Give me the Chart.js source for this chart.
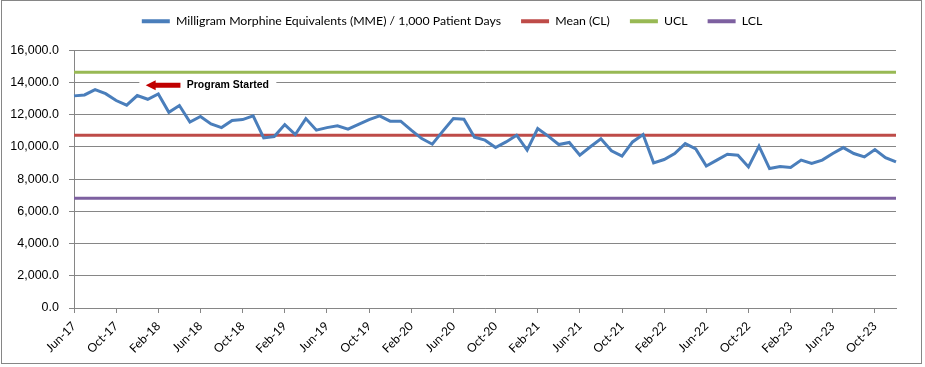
<!DOCTYPE html>
<html>
<head>
<meta charset="utf-8">
<script src="https://cdn.jsdelivr.net/npm/chart.js@4.4.0/dist/chart.umd.min.js"></script>
<style>
  html, body { margin: 0; padding: 0; background: #fff; }
</style>
</head>
<body>
<canvas id="grafico" width="925" height="367"></canvas>
<script>
// meses (eixo x)
const meses = [
  'Jun-17', 'Jul-17', 'Aug-17', 'Sep-17', 'Oct-17', 'Nov-17', 'Dec-17',
  'Jan-18', 'Feb-18', 'Mar-18', 'Apr-18', 'May-18', 'Jun-18', 'Jul-18', 'Aug-18', 'Sep-18', 'Oct-18', 'Nov-18', 'Dec-18',
  'Jan-19', 'Feb-19', 'Mar-19', 'Apr-19', 'May-19', 'Jun-19', 'Jul-19', 'Aug-19', 'Sep-19', 'Oct-19', 'Nov-19', 'Dec-19',
  'Jan-20', 'Feb-20', 'Mar-20', 'Apr-20', 'May-20', 'Jun-20', 'Jul-20', 'Aug-20', 'Sep-20', 'Oct-20', 'Nov-20', 'Dec-20',
  'Jan-21', 'Feb-21', 'Mar-21', 'Apr-21', 'May-21', 'Jun-21', 'Jul-21', 'Aug-21', 'Sep-21', 'Oct-21', 'Nov-21', 'Dec-21',
  'Jan-22', 'Feb-22', 'Mar-22', 'Apr-22', 'May-22', 'Jun-22', 'Jul-22', 'Aug-22', 'Sep-22', 'Oct-22', 'Nov-22', 'Dec-22',
  'Jan-23', 'Feb-23', 'Mar-23', 'Apr-23', 'May-23', 'Jun-23', 'Jul-23', 'Aug-23', 'Sep-23', 'Oct-23', 'Nov-23', 'Dec-23'
]

// MME / 1,000 patient days
const mme = [
  13170, 13230, 13560, 13310, 12880, 12590, 13190,
  12960, 13290, 12150, 12570, 11550, 11890, 11430, 11200, 11640, 11700, 11930, 10560,
  10650, 11390, 10770, 11760, 11040, 11200, 11310, 11100, 11400, 11700, 11930, 11600,
  11600, 11040, 10520, 10170, 10980, 11760, 11720, 10600, 10420, 9960, 10310, 10730,
  9800, 11140, 10670, 10150, 10280, 9490, 10010, 10510, 9760, 9430, 10310, 10770,
  9010, 9220, 9590, 10210, 9880, 8810, 9180, 9550, 9490, 8760, 10050, 8660,
  8780, 8720, 9180, 8970, 9180, 9590, 9960, 9590, 9380, 9840, 9340, 9070
]

// limites de controle
const mediaCL = 10720
const ucl = 14630
const lcl = 6810

const ticksY = [0, 2000, 4000, 6000, 8000, 10000, 12000, 14000, 16000]

// anotacao "Program Started" (em coordenadas de dados)
const anotacaoTexto = 'Program Started'
const anotacaoValor = 13830
const anotacaoPonta = 6.8
const anotacaoCauda = 10.1
const anotacaoTextoX = 10.7
const anotacaoFundo = [6.2, 19.2]

const cinza = '#868686'
const fonteCalibri = 'Lato, "Open Sans", sans-serif'

const fundoBranco = {
  id: 'fundoBranco',
  beforeDraw(chart) {
    const c = chart.ctx
    c.save()
    c.fillStyle = '#fff'
    c.fillRect(0, 0, chart.width, chart.height)
    c.restore()
  },
  afterDraw(chart) {
    const c = chart.ctx
    c.save()
    c.strokeStyle = cinza
    c.lineWidth = 1
    c.strokeRect(1.5, 0.5, chart.width - 5, chart.height - 4)
    c.restore()
  }
}

const anotacao = {
  id: 'anotacao',
  beforeDatasetsDraw(chart) {
    const c = chart.ctx
    const xs = chart.scales.x
    const ys = chart.scales.y
    const y = ys.getPixelForValue(anotacaoValor)
    const x0 = xs.getPixelForValue(anotacaoFundo[0])
    const x1 = xs.getPixelForValue(anotacaoFundo[1])
    c.save()
    c.fillStyle = '#fff'
    c.fillRect(x0, y - 8, x1 - x0, 15)

    const ponta = xs.getPixelForValue(anotacaoPonta)
    const cauda = xs.getPixelForValue(anotacaoCauda)
    c.fillStyle = '#c00000'
    c.beginPath()
    c.moveTo(ponta, y)
    c.lineTo(ponta + 10, y - 5)
    c.lineTo(ponta + 10, y - 2.5)
    c.lineTo(cauda, y - 2.5)
    c.lineTo(cauda, y + 2.5)
    c.lineTo(ponta + 10, y + 2.5)
    c.lineTo(ponta + 10, y + 5)
    c.closePath()
    c.fill()

    c.fillStyle = '#000'
    c.font = 'bold 10.5px "Liberation Sans", Arial, sans-serif'
    c.textBaseline = 'middle'
    c.textAlign = 'left'
    c.fillText(anotacaoTexto, xs.getPixelForValue(anotacaoTextoX), y)
    c.restore()
  }
}

const linha = (label, data, cor) => ({
  label: label,
  data: data,
  borderColor: cor,
  backgroundColor: cor,
  borderWidth: 3,
  pointRadius: 0,
  pointHoverRadius: 0,
  tension: 0,
  fill: false
})

const ctx = document.getElementById('grafico')

new Chart(ctx, {
  type: 'line',
  data: {
    labels: meses,
    datasets: [
      linha('Milligram Morphine Equivalents (MME) / 1,000 Patient Days', mme, '#4a7ebb'),
      linha('Mean (CL)', meses.map(() => mediaCL), '#be4b48'),
      linha('UCL', meses.map(() => ucl), '#98b954'),
      linha('LCL', meses.map(() => lcl), '#7d60a0')
    ]
  },
  options: {
    responsive: false,
    animation: false,
    layout: {
      padding: { top: -5, left: 8, right: 29, bottom: 0 }
    },
    plugins: {
      tooltip: { enabled: false },
      legend: {
        position: 'top',
        labels: {
          boxWidth: 28,
          boxHeight: 4,
          padding: 20,
          color: '#000',
          font: { family: fonteCalibri, size: 12.3 },
          generateLabels: (chart) =>
            Chart.defaults.plugins.legend.labels.generateLabels(chart).map(l => ({ ...l, lineWidth: 0 }))
        }
      },
      subtitle: {
        display: true,
        text: '',
        weight: 500,
        padding: { top: 0, bottom: 1 },
        font: { size: 10, lineHeight: 1.2 }
      }
    },
    scales: {
      x: {
        grid: {
          drawOnChartArea: false,
          tickLength: 5,
          color: (c) => c.index % 4 === 0 ? cinza : 'rgba(0,0,0,0)'
        },
        border: { display: true, color: cinza },
        ticks: {
          autoSkip: false,
          maxRotation: 45,
          minRotation: 45,
          padding: 6,
          color: '#000',
          font: { family: fonteCalibri, size: 12 },
          callback: (v, i) => i % 4 === 0 ? meses[i] : ''
        },
        afterFit: (s) => { s.height = 59 }
      },
      y: {
        min: 0,
        max: 16000,
        afterBuildTicks: (s) => { s.ticks = ticksY.map(v => ({ value: v })) },
        grid: { color: cinza, tickLength: 5 },
        border: { display: true, color: cinza },
        ticks: {
          padding: 10,
          color: '#000',
          font: { family: '"Liberation Sans", Arial, sans-serif', size: 12.5 },
          callback: (v) => v.toLocaleString('en-US', { minimumFractionDigits: 1, maximumFractionDigits: 1 })
        },
        afterFit: (s) => { s.width = 66 }
      }
    }
  },
  plugins: [fundoBranco, anotacao]
});
</script>
</body>
</html>
